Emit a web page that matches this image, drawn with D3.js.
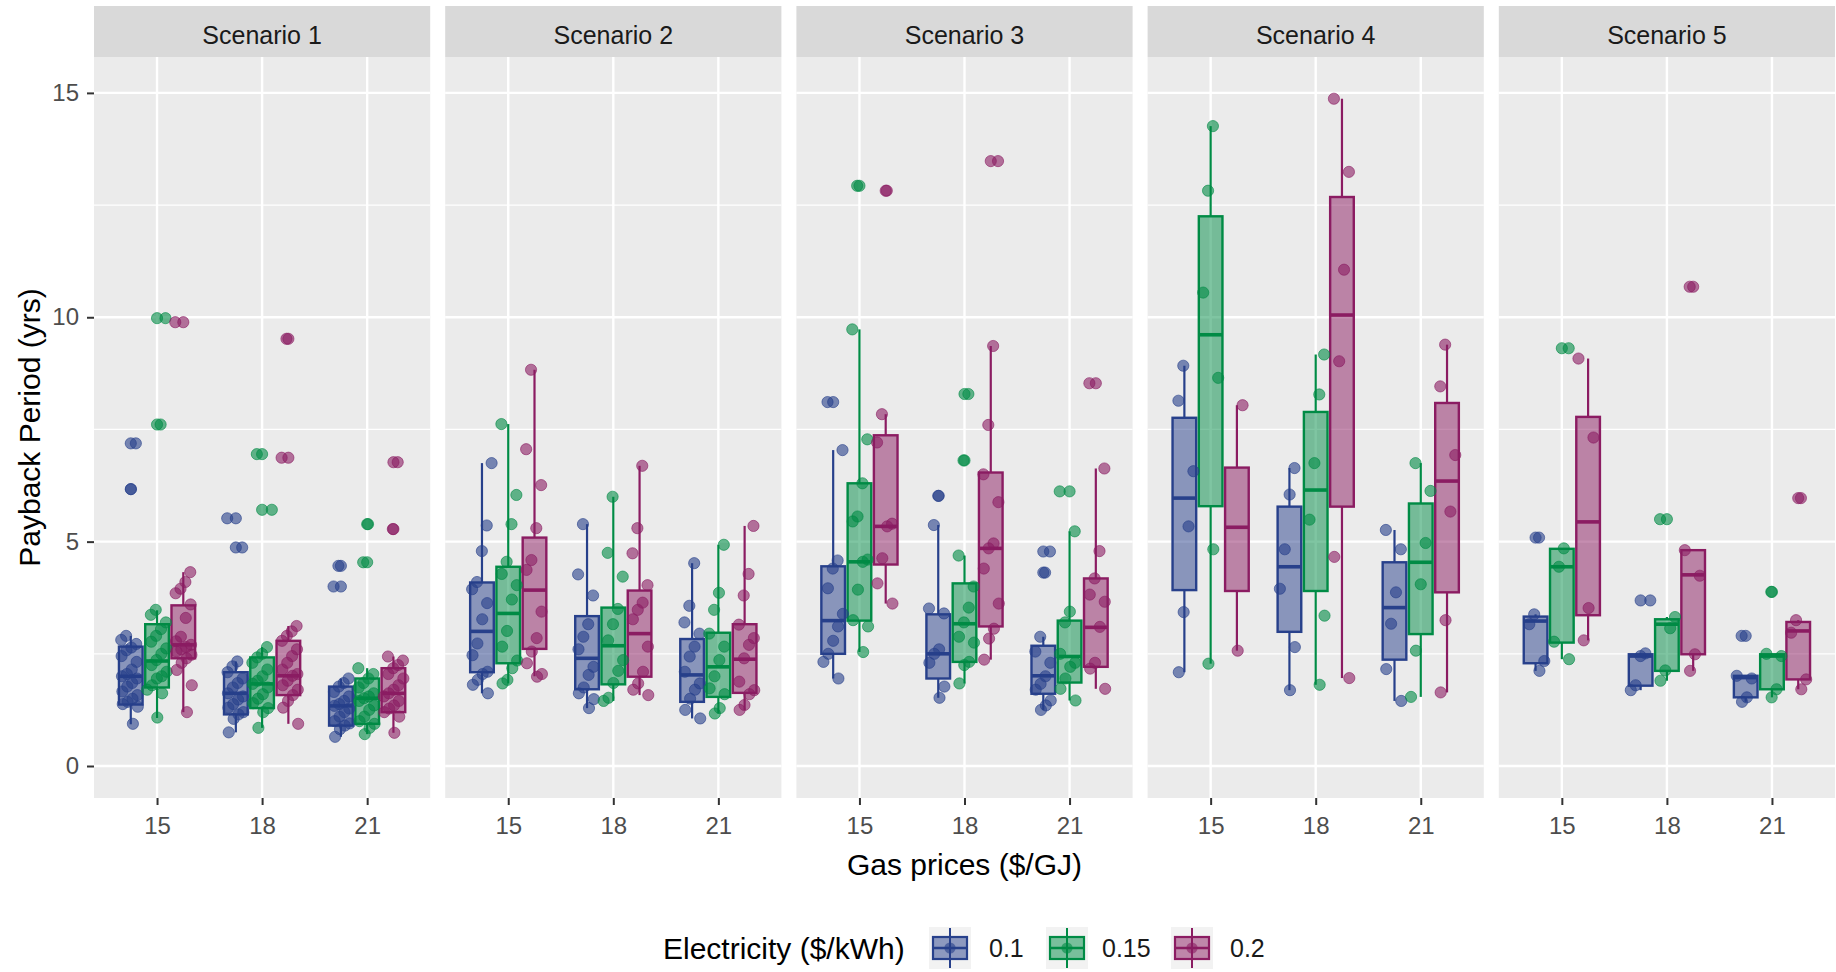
<!DOCTYPE html>
<html><head><meta charset="utf-8">
<script src="https://cdn.jsdelivr.net/npm/d3@7"></script>
<style>
body{margin:0;background:#fff}
text{font-family:"Liberation Sans",Arial,sans-serif}
</style>
</head><body>
<svg id="c" width="1836" height="972"></svg>
<script>
// ---------------- data ----------------
const scenarios = ["Scenario 1","Scenario 2","Scenario 3","Scenario 4","Scenario 5"];
const gasPrices = ["15","18","21"];
const electricity = ["0.1","0.15","0.2"];
const yTicks = [0,5,10,15];
const yMinor = [2.5,7.5,12.5];
const xTitle = "Gas prices ($/GJ)";
const yTitle = "Payback Period (yrs)";
const legendTitle = "Electricity ($/kWh)";

// box stats per group: [lower whisker, q1, median, q3, upper whisker]
// order: gas 15 (0.1, 0.15, 0.2), gas 18 (...), gas 21 (...)
const s1Box = [
  [0.93,1.37,2.00,2.66,2.90],[1.07,1.75,2.34,3.16,3.47],[1.20,2.40,2.70,3.58,4.32],
  [0.75,1.15,1.62,2.09,2.33],[0.85,1.29,1.83,2.42,2.65],[0.94,1.58,2.01,2.79,3.12],
  [0.65,0.90,1.34,1.77,1.95],[0.71,0.94,1.51,1.95,2.18],[0.74,1.20,1.62,2.18,2.44]];
const s1Out = [[7.19,6.17],[9.98,7.61],[9.89],[5.52,4.87],[6.95,5.71],[9.52,6.87],[4.46,4.00],[5.39,4.54],[6.77,5.28]];
const s1Pts = [
  [7.19,6.17,2.90,2.81,2.72,2.64,2.58,2.45,2.32,2.15,2.05,2.00,1.95,1.85,1.77,1.66,1.58,1.50,1.43,1.38,1.32,0.94],
  [9.98,7.61,3.48,3.37,3.20,3.05,2.90,2.77,2.62,2.50,2.36,2.25,2.10,2.00,1.95,1.80,1.70,1.62,1.08],
  [9.89,4.32,4.10,3.95,3.85,3.60,3.30,2.88,2.78,2.70,2.65,2.60,2.55,2.48,2.40,2.30,2.14,1.80,1.20],
  [5.52,4.87,2.33,2.22,2.09,1.95,1.85,1.75,1.62,1.55,1.48,1.38,1.30,1.20,1.15,1.05,0.75],
  [6.95,5.71,2.65,2.50,2.42,2.30,2.15,2.00,1.90,1.83,1.75,1.60,1.50,1.40,1.29,1.20,0.85],
  [9.52,6.87,3.12,3.00,2.90,2.79,2.60,2.45,2.30,2.15,2.05,2.01,1.90,1.80,1.70,1.58,1.45,1.30,0.94],
  [4.46,4.00,1.95,1.85,1.77,1.65,1.55,1.45,1.38,1.34,1.28,1.20,1.10,1.00,0.95,0.90,0.82,0.65],
  [5.39,4.54,2.18,2.05,1.95,1.85,1.75,1.62,1.55,1.51,1.45,1.35,1.25,1.10,1.00,0.94,0.85,0.71],
  [6.77,5.28,2.44,2.35,2.25,2.18,2.05,1.95,1.80,1.70,1.62,1.55,1.45,1.35,1.28,1.20,1.10,0.74]];

const s2Box = [
  [1.62,2.09,3.00,4.09,6.75],[1.84,2.29,3.40,4.44,7.62],[2.00,2.61,3.92,5.09,8.83],
  [1.29,1.71,2.40,3.34,5.39],[1.45,1.82,2.68,3.53,6.00],[1.58,1.99,2.95,3.91,6.69],
  [1.06,1.43,2.03,2.83,4.52],[1.17,1.54,2.21,2.97,4.93],[1.25,1.63,2.38,3.16,5.35]];
const s2Out = [[],[],[],[],[],[],[],[],[]];
const s2Pts = [
  [6.75,5.36,4.79,4.10,3.94,3.63,3.27,2.73,2.47,2.10,2.05,1.92,1.81,1.62],
  [7.62,6.04,5.39,4.55,4.28,4.03,3.71,3.01,2.66,2.35,2.18,1.92,1.84],
  [8.83,7.06,6.26,5.30,4.59,4.37,3.44,2.85,2.55,2.29,2.05,1.99],
  [5.39,4.27,3.80,3.16,2.88,2.60,2.21,2.03,1.75,1.62,1.49,1.29],
  [6.00,4.75,4.22,3.50,3.16,2.80,2.36,2.12,1.85,1.52,1.45],
  [6.69,5.30,4.74,4.03,3.64,3.48,3.27,2.66,2.10,1.84,1.70,1.58],
  [4.52,3.57,3.20,2.95,2.66,2.44,2.10,1.84,1.70,1.50,1.25,1.06],
  [4.93,3.86,3.48,2.95,2.66,2.36,2.00,1.73,1.60,1.29,1.17],
  [5.35,4.28,3.80,3.15,2.85,2.70,2.40,1.88,1.69,1.60,1.36,1.25]];

const s3Box = [
  [1.95,2.50,3.24,4.45,7.04],[2.54,3.24,4.55,6.30,9.73],[3.62,4.49,5.34,7.37,7.84],
  [1.52,1.95,2.50,3.38,5.37],[1.84,2.32,3.17,4.07,4.69],[2.37,3.11,4.85,6.54,9.36],
  [1.25,1.61,2.01,2.68,2.88],[1.46,1.86,2.44,3.24,5.23],[1.72,2.21,3.09,4.18,6.63]];
const s3Out = [[8.11],[12.93],[12.82],[6.02],[8.29,6.81],[13.48],[4.78,4.31],[6.12],[8.53]];
const s3Pts = [
  [8.11,7.04,4.58,4.40,3.96,3.39,3.11,2.79,2.50,2.32,1.95],
  [12.93,9.73,7.28,6.30,5.56,5.45,4.60,4.55,3.93,3.25,3.11,2.54],
  [12.82,7.84,7.21,5.40,5.34,4.63,4.07,3.62],
  [6.02,5.37,3.51,3.40,2.60,2.50,2.30,1.77,1.52],
  [8.29,6.81,4.69,4.00,3.53,3.20,2.88,2.75,2.32,2.25,1.84],
  [13.48,9.36,7.60,6.50,5.88,4.96,4.85,4.40,3.62,3.06,2.84,2.37],
  [4.78,4.31,2.88,2.55,2.30,2.00,1.83,1.70,1.46,1.35,1.25],
  [6.12,5.23,3.44,3.20,2.50,2.30,2.21,1.95,1.72,1.46],
  [8.53,6.63,4.79,4.18,3.82,3.66,3.10,2.30,2.17,1.72]];

const s4Box = [
  [2.09,3.92,5.97,7.76,8.92],[2.28,5.79,9.61,12.25,14.26],[2.57,3.90,5.32,6.65,8.04],
  [1.69,2.99,4.44,5.78,6.64],[1.81,3.90,6.15,7.89,9.17],[1.96,5.78,10.05,12.68,14.87],
  [1.45,2.37,3.53,4.54,5.26],[1.54,2.94,4.54,5.85,6.75],[1.64,3.87,6.35,8.09,9.39]];
const s4Out = [[],[],[],[],[],[],[],[],[]];
const s4Pts = [
  [8.92,8.14,6.57,5.34,3.43,2.09],
  [14.26,12.82,10.55,8.65,4.83,2.28],
  [8.04,2.57],
  [6.64,6.05,4.83,3.95,2.65,1.69],
  [9.17,8.28,6.75,5.49,3.35,1.81],
  [14.87,13.24,11.06,9.02,4.66,1.96],
  [5.26,4.83,3.87,3.17,2.16,1.45],
  [6.75,6.13,4.97,4.05,2.57,1.54],
  [9.39,8.46,6.93,5.67,3.25,1.64]];

const s5Box = [
  [2.12,2.29,3.23,3.33,3.38],[2.38,2.75,4.44,4.84,4.85],[2.80,3.36,5.44,7.78,9.08],
  [1.69,1.79,2.45,2.49,2.51],[1.90,2.12,3.16,3.27,3.32],[2.12,2.49,4.26,4.81,4.81],
  [1.43,1.53,1.97,2.01,2.01],[1.53,1.71,2.45,2.49,2.50],[1.71,1.93,3.01,3.21,3.25]];
const s5Out = [[5.09],[9.31],[],[3.69],[5.50],[10.68],[2.90],[3.88],[5.97]];
const s5Pts = [
  [5.09,3.38,3.16,2.34,2.12],
  [9.31,4.85,4.44,2.77,2.38],
  [9.08,7.32,3.52,2.80],
  [3.69,2.51,2.45,1.80,1.69],
  [5.50,3.32,3.07,2.13,1.90],
  [10.68,4.81,4.24,2.49,2.12],
  [2.90,2.01,1.95,1.53,1.43],
  [3.88,2.50,2.45,1.71,1.53],
  [5.97,3.25,2.97,1.93,1.71]];

const colors = ["#27408B","#008B45","#8B1C62"];

// ---------------- layout ----------------
const boxes = [s1Box,s2Box,s3Box,s4Box,s5Box];
const outs = [s1Out,s2Out,s3Out,s4Out,s5Out];
const pts = [s1Pts,s2Pts,s3Pts,s4Pts,s5Pts];

const svg = d3.select("#c");
const L = 94, R = 1835, gap = 15;
const stripTop = 6, panelTop = 57, panelBottom = 798;
const pw = (R - L - gap*4)/5;
const PR = 5.6, POP = 0.6;

const y = d3.scaleLinear().domain([-0.713, 15.8]).range([panelBottom, panelTop]);
const x = d3.scalePoint().domain(gasPrices).range([0, pw]).padding(0.6);
const step = x.step();
const sub = d3.scaleBand().domain(electricity).range([-0.375*step, 0.375*step]);
const boxW = sub.bandwidth()*0.9;
const jw = boxW*0.42;

scenarios.forEach((name, k) => {
  const g = svg.append("g").attr("transform", `translate(${L + k*(pw+gap)},0)`);
  // strip
  g.append("rect").attr("x",0).attr("y",stripTop).attr("width",pw).attr("height",panelTop-stripTop).attr("fill","#D9D9D9");
  g.append("text").attr("x",pw/2).attr("y",(stripTop+panelTop)/2).attr("dy","0.5em")
    .attr("text-anchor","middle").attr("font-size",25).attr("fill","#1A1A1A").text(name);
  // panel
  g.append("rect").attr("x",0).attr("y",panelTop).attr("width",pw).attr("height",panelBottom-panelTop).attr("fill","#EBEBEB");
  g.selectAll(".mn").data(yMinor).enter().append("line")
    .attr("x1",0).attr("x2",pw).attr("y1",d=>y(d)).attr("y2",d=>y(d)).attr("stroke","#fff").attr("stroke-width",1.2);
  g.selectAll(".mj").data(yTicks).enter().append("line")
    .attr("x1",0).attr("x2",pw).attr("y1",d=>y(d)).attr("y2",d=>y(d)).attr("stroke","#fff").attr("stroke-width",2.4);
  g.selectAll(".vx").data(gasPrices).enter().append("line")
    .attr("x1",d=>x(d)).attr("x2",d=>x(d)).attr("y1",panelTop).attr("y2",panelBottom).attr("stroke","#fff").attr("stroke-width",2.4);

  // boxes
  boxes[k].forEach((b, i) => {
    const gi = Math.floor(i/3), ei = i%3;
    const cx = x(gasPrices[gi]) + sub(electricity[ei]) + sub.bandwidth()/2;
    const col = colors[ei];
    const [lo,q1,md,q3,hi] = b;
    const bg = g.append("g");
    bg.append("line").attr("x1",cx).attr("x2",cx).attr("y1",y(lo)).attr("y2",y(q1)).attr("stroke",col).attr("stroke-width",2.2);
    bg.append("line").attr("x1",cx).attr("x2",cx).attr("y1",y(q3)).attr("y2",y(hi)).attr("stroke",col).attr("stroke-width",2.2);
    bg.append("rect").attr("x",cx-boxW/2).attr("width",boxW).attr("y",y(q3)).attr("height",Math.max(0.5,y(q1)-y(q3)))
      .attr("fill",col).attr("fill-opacity",0.5).attr("stroke",col).attr("stroke-width",2.4);
    bg.append("line").attr("x1",cx-boxW/2).attr("x2",cx+boxW/2).attr("y1",y(md)).attr("y2",y(md)).attr("stroke",col).attr("stroke-width",3.6);
    outs[k][i].forEach(v => {
      bg.append("circle").attr("cx",cx).attr("cy",y(v)).attr("r",PR).attr("fill",col).attr("fill-opacity",POP)
        .attr("stroke",col).attr("stroke-opacity",POP).attr("stroke-width",1);
    });
  });
  // jittered points
  pts[k].forEach((arr, i) => {
    const gi = Math.floor(i/3), ei = i%3;
    const cx = x(gasPrices[gi]) + sub(electricity[ei]) + sub.bandwidth()/2;
    const col = colors[ei];
    arr.forEach((v, j) => {
      const t = ((j+1)*0.7548776662 + gi*0.31 + ei*0.17 + k*0.23) % 1;
      g.append("circle").attr("cx",cx + (t-0.5)*2*jw).attr("cy",y(v)).attr("r",PR)
        .attr("fill",col).attr("fill-opacity",POP).attr("stroke",col).attr("stroke-opacity",POP).attr("stroke-width",1);
    });
  });

  // x axis
  const xa = g.append("g").attr("transform",`translate(0,${panelBottom})`)
    .call(d3.axisBottom(x).tickSize(7).tickPadding(12));
  xa.select(".domain").remove();
  xa.selectAll(".tick line").attr("stroke","#333333").attr("stroke-width",2);
  xa.selectAll(".tick text").attr("font-size",24).attr("fill","#4D4D4D").attr("font-family","Liberation Sans, Arial, sans-serif");
});

// y axis
const ya = svg.append("g").attr("transform",`translate(${L},0)`)
  .call(d3.axisLeft(y).tickValues(yTicks).tickSize(7).tickPadding(8));
ya.select(".domain").remove();
ya.selectAll(".tick line").attr("stroke","#333333").attr("stroke-width",2);
ya.selectAll(".tick text").attr("font-size",24).attr("fill","#4D4D4D").attr("font-family","Liberation Sans, Arial, sans-serif");

// titles
svg.append("text").attr("transform",`translate(29,${(panelTop+panelBottom)/2}) rotate(-90)`).attr("dy","0.36em")
  .attr("text-anchor","middle").attr("font-size",30).attr("fill","#000").text(yTitle);
svg.append("text").attr("x",(L+R)/2).attr("y",864).attr("dy","0.36em")
  .attr("text-anchor","middle").attr("font-size",30).attr("fill","#000").text(xTitle);

// legend
const ly = 948;
svg.append("text").attr("x",663).attr("y",ly).attr("dy","0.36em").attr("font-size",30).attr("fill","#000").text(legendTitle);
const keyX = [929, 1046, 1171];
const labX = [989, 1102, 1230];
electricity.forEach((e, i) => {
  const kx = keyX[i], ky = ly - 21, col = colors[i], ks = 42;
  const kg = svg.append("g");
  kg.append("rect").attr("x",kx).attr("y",ky).attr("width",ks).attr("height",ks).attr("fill","#F2F2F2");
  kg.append("line").attr("x1",kx+ks/2).attr("x2",kx+ks/2).attr("y1",ky+1).attr("y2",ky+ks-1).attr("stroke",col).attr("stroke-width",2);
  kg.append("rect").attr("x",kx+4).attr("y",ky+10).attr("width",ks-8).attr("height",ks-20)
    .attr("fill",col).attr("fill-opacity",0.5).attr("stroke",col).attr("stroke-width",2.2);
  kg.append("line").attr("x1",kx+4).attr("x2",kx+ks-4).attr("y1",ky+ks/2).attr("y2",ky+ks/2).attr("stroke",col).attr("stroke-width",2.4);
  kg.append("circle").attr("cx",kx+ks/2).attr("cy",ky+ks/2).attr("r",PR).attr("fill",col).attr("fill-opacity",0.6);
  svg.append("text").attr("x",labX[i]).attr("y",ly).attr("dy","0.36em").attr("font-size",25).attr("fill","#1A1A1A").text(e);
});
</script>
</body></html>
